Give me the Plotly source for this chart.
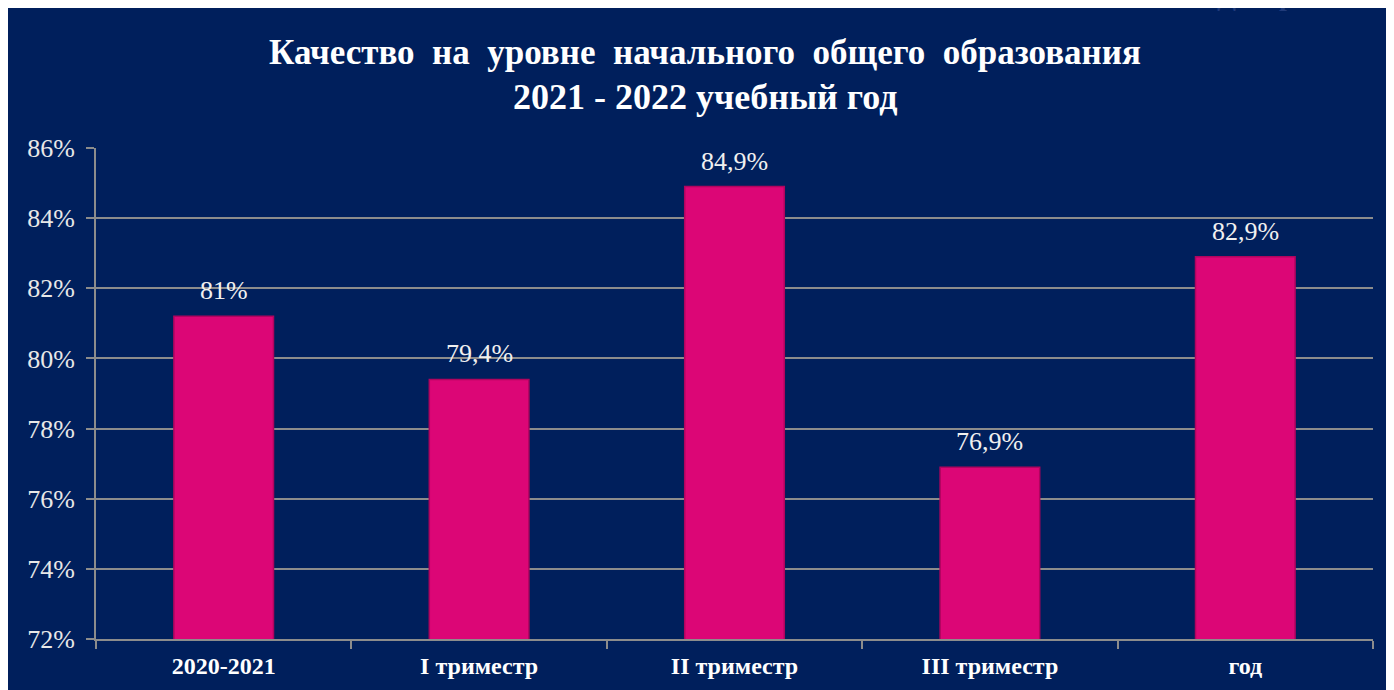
import plotly.graph_objects as go

categories = ["2020-2021", "I триместр", "II триместр", "III триместр", "год"]
values = [81.2, 79.4, 84.9, 76.9, 82.9]
value_labels = ["81%", "79,4%", "84,9%", "76,9%", "82,9%"]
y_ticks = [72, 74, 76, 78, 80, 82, 84, 86]
y_tick_labels = ["72%", "74%", "76%", "78%", "80%", "82%", "84%", "86%"]

W, H = 1394, 690
ML, MR, MT, MB = 88, 29, 140, 59
PW, PH = W - ML - MR, H - MT - MB

def px_x(x):
    return (x - ML) / PW

def px_y(y):
    return (H - MB - y) / PH

NAVY = "#001f5c"
SERIF = "Liberation Serif, Times New Roman, serif"

fig = go.Figure()
fig.add_trace(go.Bar(
    x=categories, y=values,
    marker=dict(color="#dc0676", line=dict(color="#b0045e", width=1.5)),
    width=0.39,
))

annotations = [
    dict(text="Качество  на  уровне  начального  общего  образования",
         xref="paper", yref="paper", x=px_x(697), y=px_y(44),
         xanchor="center", yanchor="middle", showarrow=False,
         font=dict(family=SERIF, size=35, color="white", weight="bold")),
    dict(text="2021 - 2022 учебный год",
         xref="paper", yref="paper", x=px_x(697), y=px_y(89),
         xanchor="center", yanchor="middle", showarrow=False,
         font=dict(family=SERIF, size=36, color="white", weight="bold")),
    dict(text="Диаграмма 1",
         xref="paper", yref="paper", x=px_x(1207), y=px_y(5),
         xanchor="left", yanchor="bottom", showarrow=False,
         font=dict(family=SERIF, size=28, color="#1f3a7a", weight="bold")),
]
for c, v, t in zip(categories, values, value_labels):
    annotations.append(dict(
        text=t, xref="x", yref="y", x=c, y=v,
        xanchor="center", yanchor="bottom", yshift=9, showarrow=False,
        font=dict(family=SERIF, size=26, color="#f0f0f0"),
    ))

fig.update_layout(
    width=W, height=H,
    margin=dict(l=ML, r=MR, t=MT, b=MB),
    paper_bgcolor=NAVY,
    plot_bgcolor=NAVY,
    showlegend=False,
    annotations=annotations,
    xaxis=dict(
        showline=True, linecolor="#8c8c8c", linewidth=2,
        ticks="outside", tickson="boundaries", ticklen=8, tickcolor="#8c8c8c", tickwidth=2,
        tickfont=dict(family=SERIF, size=24, color="white", weight="bold"),
        ticklabelstandoff=4,
        showgrid=False,
    ),
    yaxis=dict(
        range=[72, 86], tickvals=y_ticks, ticktext=y_tick_labels,
        showline=True, linecolor="#8c8c8c", linewidth=2,
        ticks="outside", ticklen=8, tickcolor="#8c8c8c", tickwidth=2,
        tickfont=dict(family=SERIF, size=26, color="#e8e8e8"),
        ticklabelstandoff=6,
        showgrid=True, gridcolor="#8c8c8c", gridwidth=2,
        zeroline=False,
    ),
)

fig.write_html("out.html")
